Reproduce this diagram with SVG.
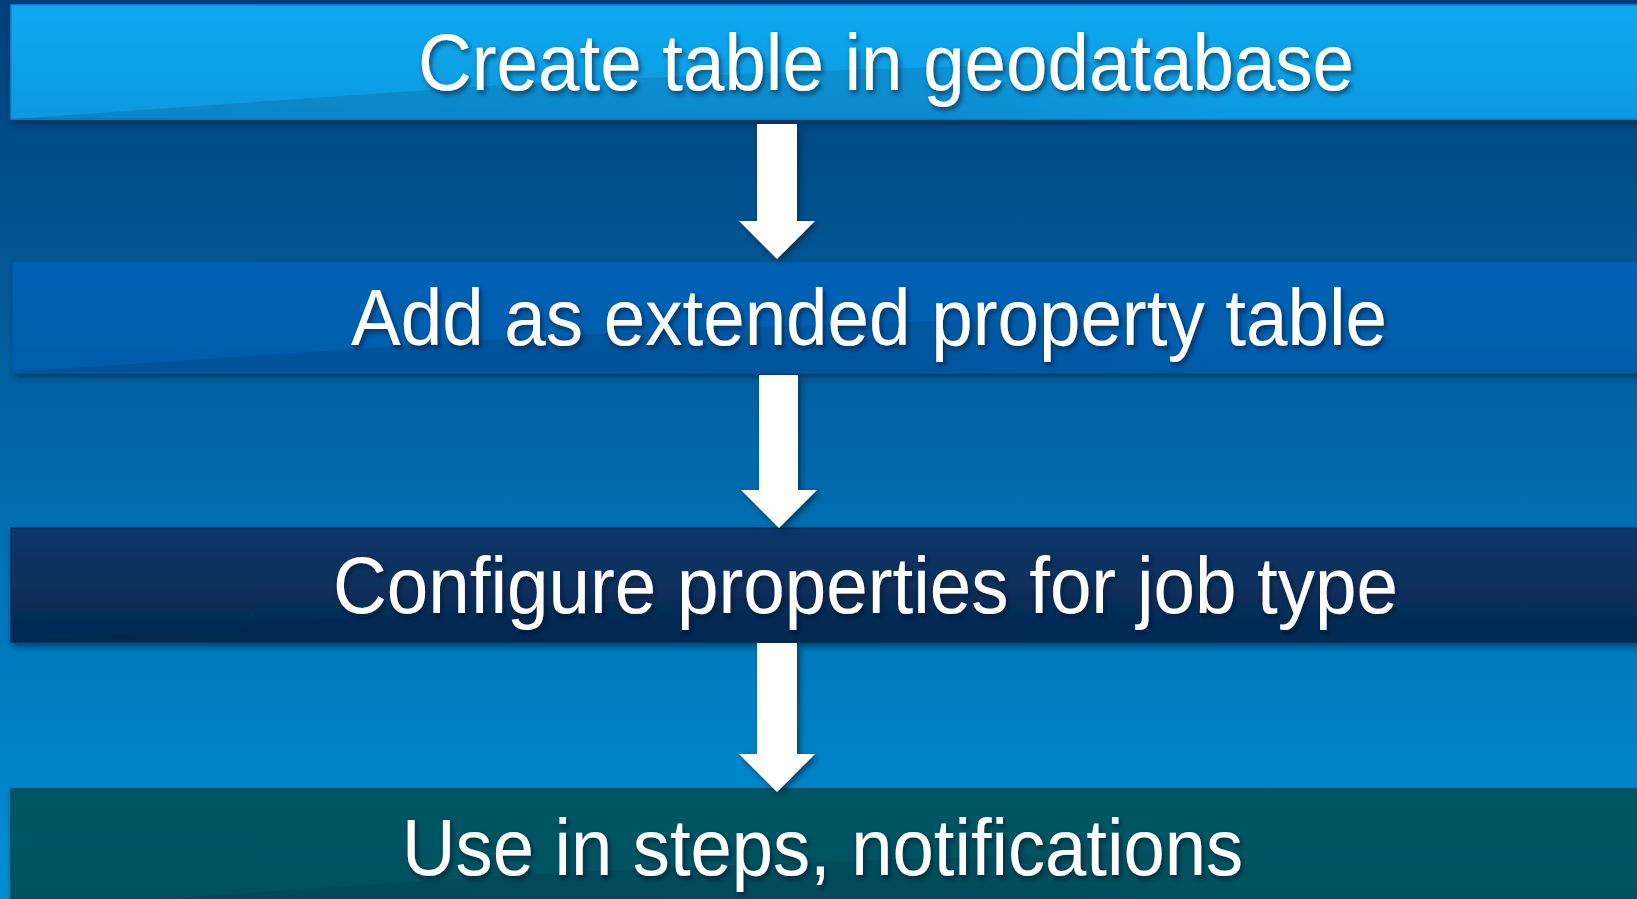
<svg xmlns="http://www.w3.org/2000/svg" width="1637" height="899" viewBox="0 0 1637 899">
<defs>
<linearGradient id="bg" x1="0" y1="0" x2="0" y2="1">
<stop offset="0" stop-color="#003f78"/>
<stop offset="0.35" stop-color="#025b99"/>
<stop offset="0.7" stop-color="#0078be"/>
<stop offset="1" stop-color="#008fd4"/>
</linearGradient>
<linearGradient id="g1" x1="0" y1="0" x2="0" y2="1">
<stop offset="0" stop-color="#0aa9ef"/>
<stop offset="1" stop-color="#0899e0"/>
</linearGradient>
<linearGradient id="g2" x1="0" y1="0" x2="0" y2="1">
<stop offset="0" stop-color="#0562b5"/>
<stop offset="1" stop-color="#055cab"/>
</linearGradient>
<linearGradient id="g3" x1="0" y1="0" x2="0" y2="1">
<stop offset="0" stop-color="#0a3668"/>
<stop offset="1" stop-color="#052a52"/>
</linearGradient>
<linearGradient id="g4" x1="0" y1="0" x2="0" y2="1">
<stop offset="0" stop-color="#025665"/>
<stop offset="1" stop-color="#02505e"/>
</linearGradient>
<linearGradient id="wedge" x1="0" y1="0" x2="1" y2="0">
<stop offset="0" stop-color="#001a3a" stop-opacity="0.16"/>
<stop offset="0.55" stop-color="#001a3a" stop-opacity="0.12"/>
<stop offset="0.75" stop-color="#001a3a" stop-opacity="0"/>
</linearGradient>
<filter id="boxsh" x="-5%" y="-20%" width="110%" height="150%">
<feDropShadow dx="2" dy="4" stdDeviation="3" flood-color="#001a33" flood-opacity="0.55"/>
</filter>
<filter id="arrsh" x="-30%" y="-10%" width="160%" height="130%">
<feDropShadow dx="3" dy="3" stdDeviation="3" flood-color="#001a33" flood-opacity="0.6"/>
</filter>
<filter id="txtsh" x="-5%" y="-20%" width="110%" height="150%">
<feDropShadow dx="2" dy="3" stdDeviation="2.5" flood-color="#001428" flood-opacity="0.6"/>
</filter>
</defs>
<style>
.lbl{font-family:"Liberation Sans",Arial,Helvetica,sans-serif;font-size:80px;fill:#ffffff;filter:url(#txtsh)}
.arrow{fill:#ffffff;filter:url(#arrsh)}
</style>
<rect x="0" y="0" width="1637" height="899" fill="url(#bg)"/>

<g id="node1">
<rect x="11" y="5" width="1640" height="114" fill="url(#g1)" stroke="#0b86e0" stroke-width="1.5" filter="url(#boxsh)"/>
<path d="M11,119 L500,85 Q800,68 1637,47 L1637,119 Z" fill="url(#wedge)"/>
<text class="lbl" x="418" y="90" textLength="936" lengthAdjust="spacingAndGlyphs">Create table in geodatabase</text>
</g>

<g id="node2">
<rect x="13" y="262" width="1640" height="111" fill="url(#g2)" stroke="#0558a6" stroke-width="1" filter="url(#boxsh)"/>
<path d="M13,372 L500,339 Q800,322 1637,301 L1637,373 Z" fill="url(#wedge)"/>
<text class="lbl" x="351" y="345" textLength="1036" lengthAdjust="spacingAndGlyphs">Add as extended property table</text>
</g>

<g id="node3">
<rect x="11" y="528" width="1640" height="114" fill="url(#g3)" stroke="#062c55" stroke-width="1.5" filter="url(#boxsh)"/>
<path d="M11,641 L500,608 Q800,591 1637,570 L1637,642 Z" fill="url(#wedge)"/>
<text class="lbl" x="333" y="613" textLength="1065" lengthAdjust="spacingAndGlyphs">Configure properties for job type</text>
</g>

<g id="node4">
<rect x="11" y="789" width="1640" height="120" fill="url(#g4)" stroke="#024b57" stroke-width="1.5" filter="url(#boxsh)"/>
<path d="M11,909 L500,876 Q800,859 1637,838 L1637,909 Z" fill="url(#wedge)"/>
<text class="lbl" x="402" y="875" textLength="841" lengthAdjust="spacingAndGlyphs">Use in steps, notifications</text>
</g>

<g id="connectors">
<path class="arrow" d="M757,124 L797,124 L797,221 L815,221 L777,259 L739,221 L757,221 Z"/>
<path class="arrow" d="M759,375 L798,375 L798,490 L817,490 L779,528 L741,490 L759,490 Z"/>
<path class="arrow" d="M757,643 L797,643 L797,754 L815,754 L777,792 L739,754 L757,754 Z"/>
</g>
</svg>
